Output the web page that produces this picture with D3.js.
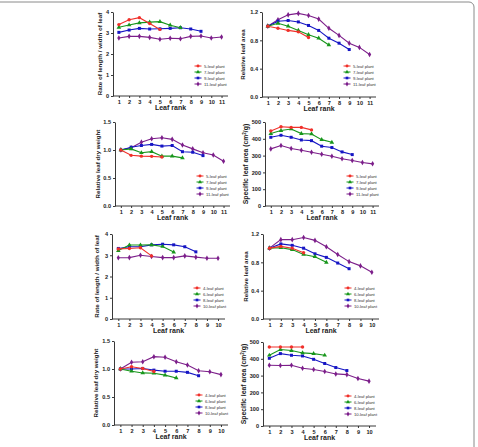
<!DOCTYPE html>
<html>
<head>
<meta charset="utf-8">
<script src="https://cdn.jsdelivr.net/npm/d3@7"></script>
<style>
  body { margin: 0; background: #fff; }
  svg { display: block; font-family: 'Liberation Sans', Arial, sans-serif; }
</style>
</head>
<body>
<div id="chart"></div>
<script>
var W = 478
var H = 447

// legend labels
var namesTop = ['5-leaf plant', '7-leaf plant', '9-leaf plant', '11-leaf plant']
var namesBottom = ['4-leaf plant', '6-leaf plant', '8-leaf plant', '10-leaf plant']
var colors = ['#f0302a', '#17961b', '#1515c4', '#7c1e8a']

// top block (5/7/9/11 leaf plants)
var ratioA5 = [3.40, 3.63, 3.73, 3.45, 3.17]
var ratioA7 = [3.27, 3.38, 3.48, 3.52, 3.54, 3.37, 3.25]
var ratioA9 = [3.03, 3.14, 3.22, 3.19, 3.20, 3.22, 3.25, 3.19, 3.08]
var ratioA11 = [2.76, 2.84, 2.84, 2.79, 2.70, 2.75, 2.73, 2.84, 2.86, 2.76, 2.81]

var areaA5 = [1.0, 0.97, 0.94, 0.92, 0.84]
var areaA7 = [1.0, 1.04, 1.0, 0.94, 0.88, 0.83, 0.735]
var areaA9 = [1.0, 1.07, 1.08, 1.06, 1.01, 0.94, 0.83, 0.76, 0.67]
var areaA11 = [1.0, 1.09, 1.16, 1.18, 1.15, 1.10, 0.97, 0.87, 0.76, 0.70, 0.60]

var dryA5 = [1.0, 0.905, 0.89, 0.887, 0.875]
var dryA7 = [1.0, 1.02, 0.95, 0.97, 0.89, 0.89, 0.86]
var dryA9 = [1.0, 1.05, 1.08, 1.10, 1.07, 1.08, 0.97, 0.96, 0.90]
var dryA11 = [1.0, 1.04, 1.14, 1.20, 1.22, 1.19, 1.09, 1.02, 0.95, 0.91, 0.80]

var slaA5 = [447, 472, 468, 468, 453]
var slaA7 = [431, 449, 458, 431, 429, 395, 379]
var slaA9 = [409, 421, 409, 393, 389, 356, 348, 322, 306]
var slaA11 = [340, 360, 342, 332, 320, 308, 296, 281, 271, 259, 251]

// bottom block (4/6/8/10 leaf plants)
var ratioB4 = [3.30, 3.32, 3.35, 2.97]
var ratioB6 = [3.22, 3.48, 3.48, 3.49, 3.41, 3.15]
var ratioB8 = [3.32, 3.40, 3.40, 3.49, 3.52, 3.49, 3.40, 3.16]
var ratioB10 = [2.88, 2.89, 3.00, 2.94, 2.89, 2.89, 2.97, 2.91, 2.86, 2.86]

var areaB4 = [1.0, 1.025, 1.0, 0.935]
var areaB6 = [1.0, 1.006, 0.98, 0.91, 0.88, 0.80]
var areaB8 = [1.0, 1.06, 1.04, 1.0, 0.92, 0.87, 0.79, 0.71]
var areaB10 = [1.0, 1.12, 1.12, 1.15, 1.11, 1.02, 0.91, 0.81, 0.75, 0.66]

var dryB4 = [1.0, 1.04, 1.01, 0.955]
var dryB6 = [1.0, 0.96, 0.93, 0.925, 0.89, 0.84]
var dryB8 = [1.0, 1.0, 1.01, 0.98, 0.96, 0.96, 0.94, 0.88]
var dryB10 = [1.0, 1.12, 1.13, 1.22, 1.21, 1.13, 1.07, 0.97, 0.95, 0.90]

var slaB4 = [470, 470, 470, 470]
var slaB6 = [421, 455, 449, 435, 431, 421]
var slaB8 = [403, 431, 421, 417, 397, 372, 348, 330]
var slaB10 = [362, 360, 362, 344, 336, 324, 310, 306, 283, 267]

var ratioTicks = [0, 1, 2, 3, 4]
var areaTicks = [0, 0.4, 0.8, 1.2]
var dryTicks = [0, 0.5, 1.0, 1.5]
var slaTicks = [0, 100, 200, 300, 400, 500]

var panels = [
  { series: [ratioA5, ratioA7, ratioA9, ratioA11], names: namesTop, n: 11, ymax: 4, ticks: ratioTicks, fmt: d3.format('d'), title: 'Rate of length / width of leaf', ax: 113, top: 12, bot: 96, end: 228, lab: 11 },
  { series: [areaA5, areaA7, areaA9, areaA11], names: namesTop, n: 11, ymax: 1.2, ticks: areaTicks, fmt: d3.format('.1f'), title: 'Relative leaf area', ax: 262, top: 12, bot: 97, end: 376, lab: 17 },
  { series: [dryA5, dryA7, dryA9, dryA11], names: namesTop, n: 11, ymax: 1.5, ticks: dryTicks, fmt: d3.format('.1f'), title: 'Relative leaf dry weight', ax: 115, top: 122, bot: 206, end: 230, lab: 15 },
  { series: [slaA5, slaA7, slaA9, slaA11], names: namesTop, n: 11, ymax: 500, ticks: slaTicks, fmt: d3.format('d'), title: 'sla', ax: 265, top: 122, bot: 206, end: 379, lab: 17 },
  { series: [ratioB4, ratioB6, ratioB8, ratioB10], names: namesBottom, n: 10, ymax: 4, ticks: ratioTicks, fmt: d3.format('d'), title: 'Rate of length / width of leaf', ax: 112, top: 234, bot: 319, end: 225, lab: 13 },
  { series: [areaB4, areaB6, areaB8, areaB10], names: namesBottom, n: 10, ymax: 1.2, ticks: areaTicks, fmt: d3.format('.1f'), title: 'Relative leaf area', ax: 263, top: 234, bot: 319, end: 379, lab: 15 },
  { series: [dryB4, dryB6, dryB8, dryB10], names: namesBottom, n: 10, ymax: 1.5, ticks: dryTicks, fmt: d3.format('.1f'), title: 'Relative leaf dry weight', ax: 114, top: 341, bot: 425, end: 228, lab: 16 },
  { series: [slaB4, slaB6, slaB8, slaB10], names: namesBottom, n: 10, ymax: 500, ticks: slaTicks, fmt: d3.format('d'), title: 'sla', ax: 263, top: 342, bot: 426, end: 376, lab: 17 }
]

var symbols = [d3.symbolCircle, d3.symbolTriangle, d3.symbolSquare, d3.symbolDiamond]

var svg = d3.select('#chart')
  .append('svg')
  .attr('width', W)
  .attr('height', H)

// outer frame
svg.append('rect')
  .attr('x', -10)
  .attr('y', 2)
  .attr('width', 484)
  .attr('height', 460)
  .attr('rx', 5)
  .attr('fill', 'none')
  .attr('stroke', '#8a8a8a')
  .attr('stroke-width', 1)

function drawPanel (p) {
  var g = svg.append('g')
  // first tick sits a bit more than half a step right of the y axis
  var step = (p.end - p.ax) / (p.n + 0.2)
  var x = d3.scaleLinear()
    .domain([1, p.n])
    .range([p.ax + 0.57 * step, p.ax + (p.n - 0.43) * step])
  var y = d3.scaleLinear()
    .domain([0, p.ymax])
    .range([p.bot, p.top])

  var xAxis = g.append('g')
    .attr('transform', 'translate(0,' + p.bot + ')')
    .call(d3.axisBottom(x).tickValues(d3.range(1, p.n + 1)).tickSize(2).tickSizeOuter(0).tickPadding(2).tickFormat(d3.format('d')))
  xAxis.select('.domain').attr('d', 'M' + p.ax + ',0H' + p.end)

  g.append('g')
    .attr('transform', 'translate(' + p.ax + ',0)')
    .call(d3.axisLeft(y).tickValues(p.ticks).tickSize(2).tickSizeOuter(0).tickPadding(2).tickFormat(p.fmt))

  g.selectAll('.tick text')
    .attr('font-size', 5.6)
    .attr('font-weight', 'bold')
    .attr('font-family', "'Liberation Sans', Arial, sans-serif")
    .attr('fill', '#222')
  g.selectAll('.domain, .tick line').attr('stroke', '#222').attr('stroke-width', 0.9)

  // axis titles
  g.append('text')
    .attr('x', (p.ax + p.end) / 2)
    .attr('y', p.bot + 13.5)
    .attr('text-anchor', 'middle')
    .attr('font-size', 7)
    .attr('font-weight', 'bold')
    .attr('fill', '#222')
    .text('Leaf rank')

  var t = g.append('text')
    .attr('transform', 'translate(' + (p.ax - p.lab) + ',' + ((p.top + p.bot) / 2) + ') rotate(-90)')
    .attr('text-anchor', 'middle')
    .attr('font-size', p.title === 'sla' ? 6.8 : 6.2)
    .attr('font-weight', 'bold')
    .attr('fill', '#222')
  if (p.title === 'sla') {
    t.append('tspan').text('Specific leaf  area (cm')
    t.append('tspan').attr('baseline-shift', 'super').attr('font-size', 4.5).text('2')
    t.append('tspan').text('/g)')
  } else {
    t.text(p.title)
  }

  var line = d3.line()
    .x(function (d, i) { return x(i + 1) })
    .y(function (d) { return y(d) })
    .curve(d3.curveLinear)

  // draw largest plant first so smaller series sit on top
  for (var s = p.series.length - 1; s >= 0; s--) {
    var vals = p.series[s]
    g.append('path')
      .attr('d', line(vals))
      .attr('fill', 'none')
      .attr('stroke', colors[s])
      .attr('stroke-width', 1.1)
    g.selectAll('.pt' + s)
      .data(vals)
      .enter()
      .append('path')
      .attr('transform', function (d, i) { return 'translate(' + x(i + 1) + ',' + y(d) + ')' })
      .attr('d', d3.symbol().type(symbols[s]).size(9))
      .attr('fill', colors[s])
  }

  // legend
  var lx = p.ax + 85
  var ly = p.top + 54
  p.names.forEach(function (name, i) {
    var yy = ly + i * 6
    g.append('line')
      .attr('x1', lx - 3.5)
      .attr('x2', lx + 3.5)
      .attr('y1', yy)
      .attr('y2', yy)
      .attr('stroke', colors[i])
      .attr('stroke-width', 1)
    g.append('path')
      .attr('transform', 'translate(' + lx + ',' + yy + ')')
      .attr('d', d3.symbol().type(symbols[i]).size(7))
      .attr('fill', colors[i])
    g.append('text')
      .attr('x', lx + 6)
      .attr('y', yy + 1.5)
      .attr('font-size', 4.2)
      .attr('fill', '#333')
      .text(name)
  })
}

panels.forEach(drawPanel)
</script>
</body>
</html>
